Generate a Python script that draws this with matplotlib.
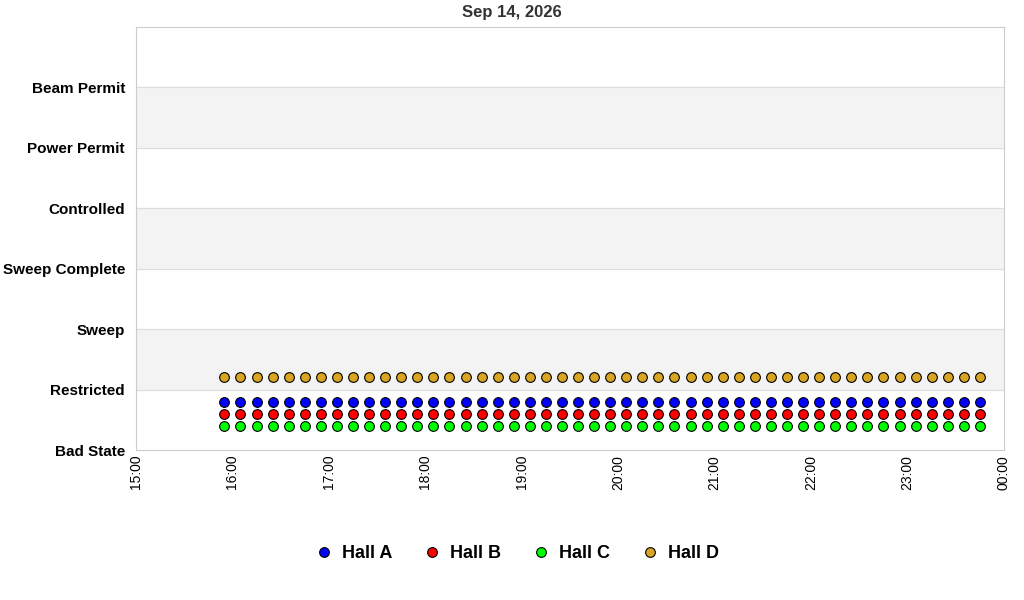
import matplotlib
matplotlib.use("Agg")
import matplotlib.pyplot as plt
import numpy as np
import datetime as dt
import matplotlib.dates as mdates

plt.rcParams['font.family'] = ['Liberation Sans', 'DejaVu Sans']

states = ["Bad State", "Restricted", "Sweep", "Sweep Complete", "Controlled", "Power Permit", "Beam Permit"]
halls = ["Hall A", "Hall B", "Hall C", "Hall D"]
colors = ["#0000ff", "#ff0000", "#00ff00", "#daa520"]
levels = [0.8, 0.6, 0.4, 1.2]
start = dt.datetime(2026, 9, 14, 15, 55)
times = [start + dt.timedelta(minutes=10 * i) for i in range(48)]

fig = plt.figure(figsize=(10.24, 6), dpi=100)
ax = fig.add_axes([136/1024, 1-450/600, (1004-136)/1024, (450-27)/600])
for lo in [1, 3, 5]:
    ax.axhspan(lo, lo + 1, color="#f3f3f3", zorder=0)
for y in range(1, 7):
    ax.axhline(y, color="#dddddd", lw=0.8, zorder=0)
for name, c, lv in zip(halls, colors, levels):
    ax.plot(times, [lv] * len(times), "o", ms=7, mfc=c, mec="black", mew=0.8, ls="none", label=name, zorder=3)
ax.set_ylim(0, 7)
ax.set_yticks(range(7))
ax.set_yticklabels(states, fontweight="bold", fontsize=11)
ax.set_xlim(dt.datetime(2026, 9, 14, 15), dt.datetime(2026, 9, 15, 0))
ax.xaxis.set_major_locator(mdates.HourLocator())
ax.xaxis.set_major_formatter(mdates.DateFormatter("%H:%M"))
plt.setp(ax.get_xticklabels(), rotation=90, fontsize=10)
ax.tick_params(length=0)
ax.tick_params(axis="y", pad=8)
for s in ax.spines.values():
    s.set_color("#cccccc")
fig.text(512/1024, 1-13/600, "Sep 14, 2026", ha="center", va="center", fontweight="bold", fontsize=12, color="#333333")
fig.legend(loc="center", bbox_to_anchor=(516/1024, 1-554/600), ncol=4, frameon=False,
           prop={"weight": "bold", "size": 13}, handletextpad=0.4, columnspacing=1.6, handlelength=1.2)
fig.savefig("out.png", dpi=100)
